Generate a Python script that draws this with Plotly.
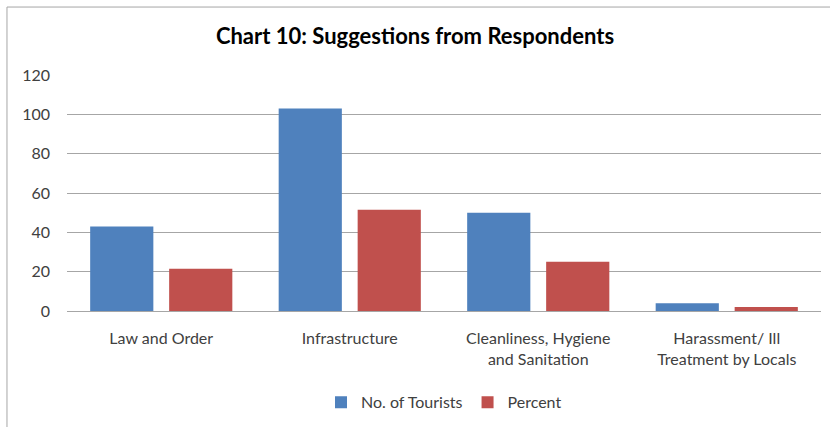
import plotly.graph_objects as go

categories = ["Law and Order", "Infrastructure", "Cleanliness, Hygiene<br>and Sanitation",
              "Harassment/ Ill<br>Treatment by Locals"]
tourists = [43, 103, 50, 4]
percent = [21.5, 51.5, 25, 2]
y_ticks = [0, 20, 40, 60, 80, 100, 120]

fig = go.Figure()
fig.add_trace(go.Bar(x=categories, y=tourists, name="No. of Tourists",
                     marker=dict(color="#4F81BD", line=dict(width=0))))
fig.add_trace(go.Bar(x=categories, y=percent, name="Percent",
                     marker=dict(color="#C0504D", line=dict(width=0))))

font_family = "Lato, 'Open Sans', sans-serif"
fig.update_layout(
    width=830, height=427,
    margin=dict(l=67, r=9, t=75, b=116, autoexpand=False),
    paper_bgcolor="white", plot_bgcolor="white",
    barmode="group", bargap=0.162, bargroupgap=0.2,
    font=dict(family=font_family, size=16, color="#404040"),
    title=dict(text="<b>Chart 10: Suggestions from Respondents</b>",
               x=0.5, xanchor="center", y=0.915, yanchor="middle",
               font=dict(size=22, color="#000000", family=font_family)),
    showlegend=True,
    legend=dict(orientation="h", x=0.5, xanchor="center", y=-0.315, yanchor="top",
                font=dict(size=16, color="#404040"), traceorder="normal",
                itemwidth=30),
    xaxis=dict(showgrid=False, showline=True, linecolor="#a6a6a6", linewidth=1,
               ticks="", ticklabelstandoff=13, automargin=False,
               tickfont=dict(size=16, color="#404040")),
    yaxis=dict(range=[0, 120], tickvals=y_ticks, showgrid=True, gridcolor="#a6a6a6",
               gridwidth=1, zeroline=False, showline=False, ticks="",
               ticklabelstandoff=16, automargin=False,
               tickfont=dict(size=16, color="#404040")),
    shapes=[dict(type="rect", xref="paper", yref="paper", x0=-0.0796, x1=1.05,
                 y0=-0.6, y1=1.288, line=dict(color="#a6a6a6", width=1),
                 fillcolor="rgba(0,0,0,0)", layer="below")],
)

fig.write_html("out.html")
